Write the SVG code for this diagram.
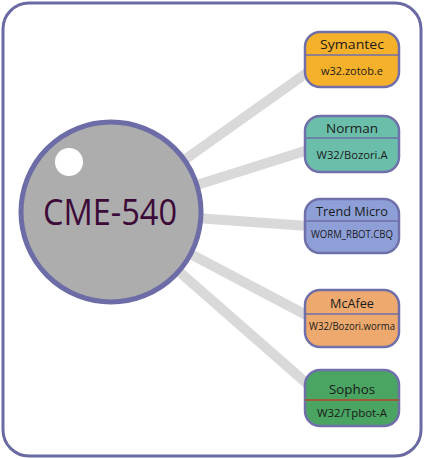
<svg xmlns="http://www.w3.org/2000/svg" width="424" height="459" viewBox="0 0 424 459">
<style>
.frame{fill:#fff;stroke:#6a6aa2;stroke-width:3}
.conn{stroke:#d9d9d9;stroke-width:10;stroke-linecap:butt}
.box{stroke:#6f6faa;stroke-width:2.5}
.div{stroke:#6f6faa;stroke-width:1.5}
.h{font-family:"Open Sans","Noto Sans",sans-serif;font-size:13px;fill:#1a1a1a;text-anchor:middle}
.v{font-family:"Open Sans","Noto Sans",sans-serif;font-size:11px;fill:#1a1a1a;text-anchor:middle}
</style>
<rect class="frame" x="3" y="3" width="418" height="453" rx="26"/>
<g id="connectors">
<line class="conn" x1="111" y1="212" x2="308" y2="72"/>
<line class="conn" x1="111" y1="212" x2="308" y2="150"/>
<line class="conn" x1="111" y1="212" x2="308" y2="226"/>
<line class="conn" x1="111" y1="212" x2="308" y2="316"/>
<line class="conn" x1="111" y1="212" x2="312" y2="388"/>
</g>
<g id="cme540">
<circle cx="111" cy="212" r="90" fill="#adadad" stroke="#6c6ca6" stroke-width="5"/>
<circle cx="69" cy="162" r="14" fill="#fff"/>
<text x="110" y="225" font-family="'Open Sans','Noto Sans',sans-serif" font-size="36" fill="#3c0a38" text-anchor="middle" textLength="134" lengthAdjust="spacingAndGlyphs">CME-540</text>
</g>
<g id="symantec">
<rect class="box" x="305" y="32" width="94" height="55" rx="15" fill="#f6b12b"/>
<line class="div" x1="305" y1="55" x2="399" y2="55"/>
<text class="h" x="352" y="49" textLength="64" lengthAdjust="spacingAndGlyphs">Symantec</text>
<text class="v" x="352" y="75" textLength="62" lengthAdjust="spacingAndGlyphs">w32.zotob.e</text>
</g>
<g id="norman">
<rect class="box" x="305" y="116" width="94" height="56" rx="15" fill="#6bbfaa"/>
<line class="div" x1="305" y1="138" x2="399" y2="138"/>
<text class="h" x="352" y="133" textLength="52" lengthAdjust="spacingAndGlyphs">Norman</text>
<text class="v" x="352" y="159" textLength="71" lengthAdjust="spacingAndGlyphs">W32/Bozori.A</text>
</g>
<g id="trendmicro">
<rect class="box" x="305" y="199" width="94" height="54" rx="15" fill="#8e9fd8"/>
<line class="div" x1="305" y1="221" x2="399" y2="221"/>
<text class="h" x="352" y="216" textLength="72" lengthAdjust="spacingAndGlyphs">Trend Micro</text>
<text class="v" x="352" y="238" textLength="82" lengthAdjust="spacingAndGlyphs">WORM_RBOT.CBQ</text>
</g>
<g id="mcafee">
<rect class="box" x="305" y="290" width="94" height="57" rx="15" fill="#eeaa6e"/>
<line class="div" x1="305" y1="314" x2="399" y2="314"/>
<text class="h" x="352" y="308" textLength="44" lengthAdjust="spacingAndGlyphs">McAfee</text>
<text class="v" x="352" y="330" textLength="86" lengthAdjust="spacingAndGlyphs">W32/Bozori.worma</text>
</g>
<g id="sophos">
<rect class="box" x="305" y="370" width="94" height="56" rx="15" fill="#4aa462"/>
<line x1="305" y1="400" x2="399" y2="400" stroke="#a0583a" stroke-width="2"/>
<text class="h" x="352" y="394" textLength="46" lengthAdjust="spacingAndGlyphs">Sophos</text>
<text class="v" x="352" y="417" textLength="70" lengthAdjust="spacingAndGlyphs">W32/Tpbot-A</text>
</g>
</svg>
